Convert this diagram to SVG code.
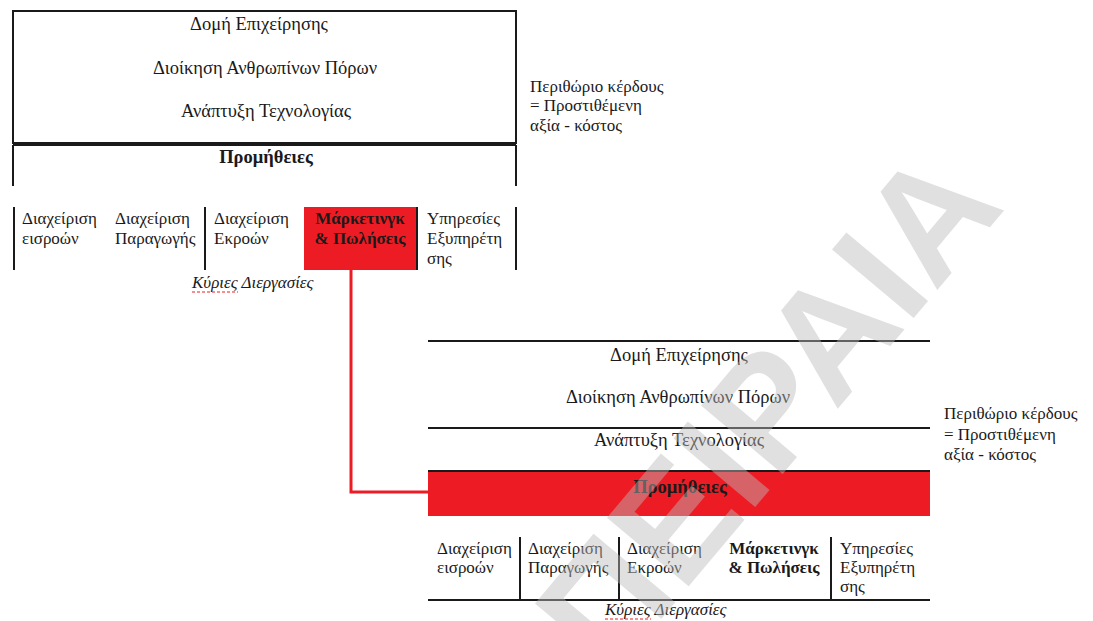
<svg xmlns="http://www.w3.org/2000/svg" width="1093" height="621" viewBox="0 0 1093 621">
<style>
  .t { font-family: "Liberation Serif", "Times New Roman", Times, serif; font-size: 18.5px; fill: #1a1a1a; }
  .s { font-family: "Liberation Serif", "Times New Roman", Times, serif; font-size: 17px; fill: #1a1a1a; }
  .b { font-weight: bold; }
  .i { font-style: italic; }
  .c { text-anchor: middle; }
  .ln { stroke: #1a1a1a; stroke-width: 2; fill: none; }
  .red { fill: #ed1c24; }
  .sq { stroke: #ed1c24; stroke-width: 1.2; stroke-dasharray: 3 2; fill: none; }
  .wm { font-family: "Liberation Sans", Arial, sans-serif; font-size: 155px; font-weight: bold; fill: #bbbbbb; fill-opacity: 0.45; }
</style>
<rect width="1093" height="621" fill="#ffffff"/>

<g id="chain1">
  <rect x="13" y="11" width="503" height="132" class="ln"/>
  <line x1="13" y1="145" x2="516" y2="145" class="ln"/>
  <line x1="13" y1="145" x2="13" y2="186" class="ln"/>
  <line x1="516" y1="145" x2="516" y2="186" class="ln"/>
  <text x="259" y="30" class="t c">Δομή Επιχείρησης</text>
  <text x="265" y="74" class="t c">Διοίκηση Ανθρωπίνων Πόρων</text>
  <text x="266" y="117" class="t c">Ανάπτυξη Τεχνολογίας</text>
  <text x="266" y="163" class="t c b">Προμήθειες</text>
  <rect x="304" y="207" width="113" height="63" class="red"/>
  <line x1="14" y1="207" x2="14" y2="270" class="ln"/>
  <line x1="205" y1="207" x2="205" y2="270" class="ln"/>
  <line x1="417" y1="207" x2="417" y2="270" class="ln"/>
  <line x1="516" y1="207" x2="516" y2="270" class="ln"/>
  <text class="s"><tspan x="22" y="224">Διαχείριση</tspan><tspan x="22" y="244">εισροών</tspan></text>
  <text class="s"><tspan x="115" y="224">Διαχείριση</tspan><tspan x="115" y="244">Παραγωγής</tspan></text>
  <text class="s"><tspan x="214" y="224">Διαχείριση</tspan><tspan x="214" y="244">Εκροών</tspan></text>
  <text class="s b c"><tspan x="360" y="224">Μάρκετινγκ</tspan><tspan x="360" y="244">&amp; Πωλήσεις</tspan></text>
  <text class="s"><tspan x="427" y="224">Υπηρεσίες</tspan><tspan x="427" y="244">Εξυπηρέτη</tspan><tspan x="427" y="264">σης</tspan></text>
  <text x="192" y="288" class="s i">Κύριες Διεργασίες</text>
  <line x1="192" y1="292" x2="238" y2="292" class="sq"/>
  <text class="s"><tspan x="530" y="92">Περιθώριο κέρδους</tspan><tspan x="530" y="111">= Προστιθέμενη</tspan><tspan x="530" y="131">αξία - κόστος</tspan></text>
</g>

<g id="chain2">
  <line x1="428" y1="341" x2="930" y2="341" class="ln"/>
  <line x1="428" y1="428" x2="930" y2="428" class="ln"/>
  <rect x="428" y="471" width="502" height="45" class="red"/>
  <line x1="428" y1="471" x2="930" y2="471" class="ln"/>
  <line x1="520" y1="537" x2="520" y2="600" class="ln"/>
  <line x1="619" y1="537" x2="619" y2="600" class="ln"/>
  <line x1="831" y1="537" x2="831" y2="600" class="ln"/>
  <line x1="428" y1="600" x2="930" y2="600" class="ln"/>
  <text x="679" y="361" class="t c">Δομή Επιχείρησης</text>
  <text x="678" y="403" class="t c">Διοίκηση Ανθρωπίνων Πόρων</text>
  <text x="679" y="446" class="t c">Ανάπτυξη Τεχνολογίας</text>
  <text x="680" y="493" class="t c b">Προμήθειες</text>
  <text class="s"><tspan x="437" y="554">Διαχείριση</tspan><tspan x="437" y="573">εισροών</tspan></text>
  <text class="s"><tspan x="528" y="554">Διαχείριση</tspan><tspan x="528" y="573">Παραγωγής</tspan></text>
  <text class="s"><tspan x="627" y="554">Διαχείριση</tspan><tspan x="627" y="573">Εκροών</tspan></text>
  <text class="s b c"><tspan x="774" y="554">Μάρκετινγκ</tspan><tspan x="774" y="573">&amp; Πωλήσεις</tspan></text>
  <text class="s"><tspan x="840" y="554">Υπηρεσίες</tspan><tspan x="840" y="573">Εξυπηρέτη</tspan><tspan x="840" y="592">σης</tspan></text>
  <text x="605" y="615" class="s i">Κύριες Διεργασίες</text>
  <line x1="605" y1="619" x2="651" y2="619" class="sq"/>
  <text class="s"><tspan x="944" y="419">Περιθώριο κέρδους</tspan><tspan x="944" y="440">= Προστιθέμενη</tspan><tspan x="944" y="460">αξία - κόστος</tspan></text>
</g>

<g id="connectors">
  <polyline points="351,270 351,492 428,492" fill="none" stroke="#ed1c24" stroke-width="3"/>
</g>

<text x="0" y="0" class="wm" transform="translate(610,680) rotate(-50)">ΠΕΙΡΑΙΑ</text>
</svg>
